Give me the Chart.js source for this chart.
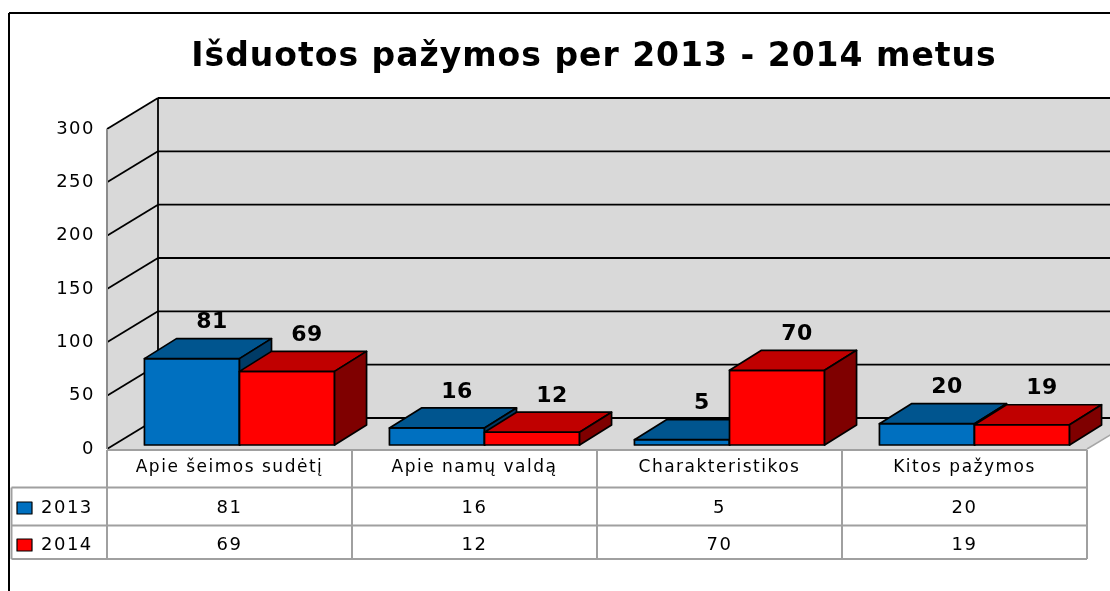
<!DOCTYPE html>
<html>
<head>
<meta charset="utf-8">
<script src="https://cdn.jsdelivr.net/npm/chart.js@4.4.1/dist/chart.umd.min.js"></script>
<style>
  html, body { margin: 0; padding: 0; background: #fff; }
  #wrap { width: 1110px; height: 591px; }
</style>
</head>
<body>
<div id="wrap"><canvas id="chart" width="1110" height="591"></canvas></div>
<script>
// data
const title = "Išduotos pažymos per 2013 - 2014 metus";
const categories = ["Apie šeimos sudėtį", "Apie namų valdą", "Charakteristikos", "Kitos pažymos"];
const seriesNames = ["2013", "2014"];
const values2013 = [81, 16, 5, 20];
const values2014 = [69, 12, 70, 19];
const yMin = 0, yMax = 300, yStep = 50;

// face colours per series: front, top, side
const faces = [
    { front: "#0070C0", top: "#00558F", side: "#003B66" },
    { front: "#FF0000", top: "#C00000", side: "#7F0000" }
];

const WALL = { dx: 51, dy: -31 };   // full depth of the box
const BAR_OFF = { dx: 10, dy: -4 }; // where bars start in depth
const BAR_DEPTH = { dx: 32, dy: -20 };
const FONT = "'DejaVu Sans', sans-serif";

function line(ctx, x1, y1, x2, y2) {
    ctx.beginPath();
    ctx.moveTo(x1, y1);
    ctx.lineTo(x2, y2);
    ctx.stroke();
}

function poly(ctx, pts, fill, stroke, lw) {
    ctx.beginPath();
    ctx.moveTo(pts[0][0], pts[0][1]);
    for (let i = 1; i < pts.length; i++) ctx.lineTo(pts[i][0], pts[i][1]);
    ctx.closePath();
    if (fill) { ctx.fillStyle = fill; ctx.fill(); }
    if (stroke) { ctx.strokeStyle = stroke; ctx.lineWidth = lw || 1; ctx.lineJoin = "round"; ctx.stroke(); }
}

const chart3d = {
    id: "chart3d",
    beforeDraw(chart) {
        chart.ctx.letterSpacing = "1.5px";
    },
    beforeDatasetsDraw(chart) {
        const ctx = chart.ctx;
        const { left, right } = chart.chartArea;
        const y = chart.scales.y;
        const yTop = y.getPixelForValue(yMax);
        const yBot = y.getPixelForValue(yMin);
        const W = chart.width;
        ctx.save();

        // outer frame
        ctx.strokeStyle = "#000";
        ctx.lineWidth = 2;
        line(ctx, 9, 13, W, 13);
        line(ctx, 9, 13, 9, chart.height);

        // title
        ctx.letterSpacing = "1px";
        ctx.fillStyle = "#000";
        ctx.font = "bold 33px " + FONT;
        ctx.textAlign = "center";
        ctx.textBaseline = "middle";
        ctx.fillText(title, 594, 57);

        // walls and floor
        const g = "#D9D9D9";
        poly(ctx, [[left + WALL.dx, yTop + WALL.dy], [W + 2, yTop + WALL.dy], [W + 2, yBot + WALL.dy], [left + WALL.dx, yBot + WALL.dy]], g);
        poly(ctx, [[left, yTop], [left + WALL.dx, yTop + WALL.dy], [left + WALL.dx, yBot + WALL.dy], [left, yBot]], g);
        poly(ctx, [[left, yBot], [right, yBot], [right + WALL.dx, yBot + WALL.dy], [left + WALL.dx, yBot + WALL.dy]], g);
        ctx.strokeStyle = "#A6A6A6";
        ctx.lineWidth = 1.5;
        line(ctx, right, yBot, right + WALL.dx, yBot + WALL.dy);

        // gridlines on side and back wall
        ctx.strokeStyle = "#000";
        ctx.lineWidth = 1.8;
        y.ticks.forEach(t => {
            const py = y.getPixelForValue(t.value);
            line(ctx, left, py, left + WALL.dx, py + WALL.dy);
            line(ctx, left + WALL.dx, py + WALL.dy, W, py + WALL.dy);
        });
        line(ctx, left + WALL.dx, yTop + WALL.dy, left + WALL.dx, yBot + WALL.dy);
        ctx.strokeStyle = "#8C8C8C";
        ctx.lineWidth = 2;
        line(ctx, left, yTop, left, yBot);
        ctx.restore();
    },
    afterDatasetsDraw(chart) {
        const ctx = chart.ctx;
        const metas = chart.data.datasets.map((d, i) => chart.getDatasetMeta(i));
        ctx.save();
        // boxes, left to right
        for (let i = 0; i < categories.length; i++) {
            metas.forEach((meta, d) => {
                const el = meta.data[i];
                const x0 = el.x - el.width / 2 + BAR_OFF.dx;
                const x1 = el.x + el.width / 2 + BAR_OFF.dx;
                const yT = el.y + BAR_OFF.dy;
                const yB = el.base + BAR_OFF.dy;
                const c = faces[d];
                const bx = BAR_DEPTH.dx, by = BAR_DEPTH.dy;
                poly(ctx, [[x0, yT], [x1, yT], [x1, yB], [x0, yB]], c.front, "#000", 1.7);
                poly(ctx, [[x0, yT], [x0 + bx, yT + by], [x1 + bx, yT + by], [x1, yT]], c.top, "#000", 1.7);
                poly(ctx, [[x1, yT], [x1 + bx, yT + by], [x1 + bx, yB + by], [x1, yB]], c.side, "#000", 1.7);
            });
        }
        // value labels
        ctx.letterSpacing = "0.5px";
        ctx.fillStyle = "#000";
        ctx.font = "bold 22px " + FONT;
        ctx.textAlign = "center";
        ctx.textBaseline = "middle";
        metas.forEach((meta, d) => {
            meta.data.forEach((el, i) => {
                const v = chart.data.datasets[d].data[i];
                ctx.fillText(String(v), el.x + BAR_OFF.dx + 20, el.y + BAR_OFF.dy + BAR_DEPTH.dy - 16);
            });
        });

        // data table
        const x = chart.scales.x;
        const { left, right } = chart.chartArea;
        const yBot = chart.scales.y.getPixelForValue(yMin);
        const rows = [yBot + 1, 487.5, 525.5, 559];
        const legL = 11.5;
        ctx.strokeStyle = "#A0A0A0";
        ctx.lineWidth = 2;
        line(ctx, left, rows[0], right, rows[0]);
        line(ctx, legL, rows[1], right, rows[1]);
        line(ctx, legL, rows[2], right, rows[2]);
        line(ctx, legL, rows[3], right, rows[3]);
        line(ctx, legL, rows[1], legL, rows[3]);
        line(ctx, left, rows[0], left, rows[3]);
        for (let i = 0; i < categories.length; i++) {
            const b = x.getPixelForValue(i) + (x.getPixelForValue(1) - x.getPixelForValue(0)) / 2;
            line(ctx, b, rows[0], b, rows[3]);
        }
        ctx.letterSpacing = "1.5px";
        ctx.fillStyle = "#000";
        ctx.font = "17px " + FONT;
        ctx.textAlign = "center";
        categories.forEach((c, i) => ctx.fillText(c, x.getPixelForValue(i), 468));
        ctx.font = "18px " + FONT;
        [values2013, values2014].forEach((vals, r) => {
            const cy = r === 0 ? 508 : 545;
            poly(ctx, [[17, cy - 6], [32, cy - 6], [32, cy + 6], [17, cy + 6]], faces[r].front, "#000", 1.2);
            ctx.fillStyle = "#000";
            ctx.textAlign = "center";
            vals.forEach((v, i) => ctx.fillText(String(v), x.getPixelForValue(i), cy));
            ctx.textAlign = "left";
            ctx.fillText(seriesNames[r], 41, cy);
        });
        ctx.restore();
    }
};

const ctx = document.getElementById("chart").getContext("2d");
new Chart(ctx, {
    type: "bar",
    data: {
        labels: categories,
        datasets: [
            { label: seriesNames[0], data: values2013, backgroundColor: "rgba(0,0,0,0)", borderWidth: 0 },
            { label: seriesNames[1], data: values2014, backgroundColor: "rgba(0,0,0,0)", borderWidth: 0 }
        ]
    },
    options: {
        responsive: false,
        animation: false,
        devicePixelRatio: 1,
        categoryPercentage: 0.776,
        barPercentage: 1,
        layout: { padding: { left: 0, right: 23, top: 129, bottom: 142 } },
        plugins: {
            legend: { display: false },
            tooltip: { enabled: false },
            title: { display: false }
        },
        scales: {
            x: { display: false },
            y: {
                min: yMin,
                max: yMax,
                ticks: { stepSize: yStep, color: "#000", padding: 4, font: { family: FONT, size: 18 } },
                grid: { display: false },
                border: { display: false },
                afterFit: s => { s.width = 107; }
            }
        }
    },
    plugins: [chart3d]
});
</script>
</body>
</html>
